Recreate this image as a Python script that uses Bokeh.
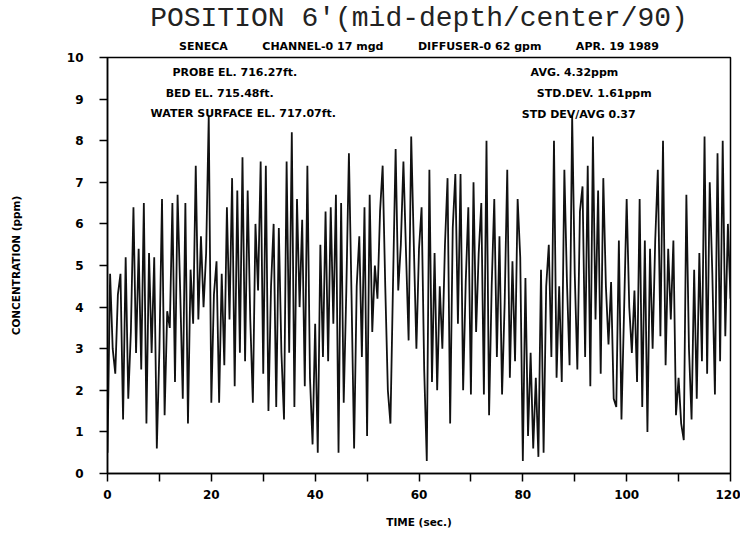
import numpy as np
from bokeh.plotting import figure
from bokeh.models import Label, Title, FixedTicker, ColumnDataSource
from bokeh.embed import file_html
from bokeh.resources import INLINE

conc = [
    0.5, 4.8, 3.0, 2.4, 4.3, 4.8, 1.3, 5.2, 1.8, 3.4,
    6.4, 2.9, 5.4, 2.5, 6.5, 1.2, 5.3, 2.9, 5.2, 0.6,
    3.0, 6.6, 1.4, 3.9, 3.5, 6.5, 2.2, 6.7, 4.4, 1.8,
    6.5, 1.2, 4.9, 3.6, 7.4, 3.7, 5.7, 4.0, 5.3, 8.6,
    1.7, 4.3, 5.1, 1.7, 4.8, 2.6, 6.4, 3.7, 7.1, 2.1,
    6.8, 2.9, 7.6, 2.7, 6.8, 3.7, 1.7, 6.0, 4.4, 7.5,
    2.4, 7.4, 1.5, 4.5, 6.0, 1.6, 5.9, 2.9, 1.3, 7.5,
    2.9, 8.2, 1.6, 6.6, 4.0, 6.1, 2.1, 7.4, 2.3, 0.7,
    3.6, 0.5, 5.5, 2.8, 6.3, 2.7, 6.4, 3.6, 6.7, 0.5,
    6.5, 1.7, 4.4, 7.7, 4.3, 0.6, 4.5, 5.7, 2.8, 6.4,
    0.9, 6.7, 3.4, 5.0, 4.2, 6.3, 7.4, 4.5, 2.0, 1.2,
    4.6, 7.8, 4.4, 5.5, 7.5, 5.3, 3.2, 8.1, 5.5, 3.0,
    5.4, 6.4, 2.5, 0.3, 7.3, 2.2, 5.3, 2.0, 4.5, 3.0,
    5.5, 7.1, 1.2, 5.9, 7.2, 3.6, 7.2, 2.0, 4.6, 6.4,
    1.9, 7.0, 3.4, 5.3, 6.5, 1.9, 8.0, 1.4, 4.5, 6.6,
    2.8, 5.7, 1.9, 4.1, 7.3, 2.3, 5.1, 2.7, 6.6, 5.2,
    0.3, 4.7, 0.9, 2.9, 0.6, 2.3, 0.4, 4.9, 0.5, 4.5,
    5.5, 2.8, 8.0, 2.3, 4.5, 2.2, 7.3, 4.6, 2.6, 8.6,
    4.8, 2.5, 6.3, 6.9, 2.8, 7.4, 2.1, 8.1, 3.7, 6.8,
    2.4, 7.1, 4.5, 3.1, 4.6, 1.8, 1.6, 5.6, 1.3, 3.9,
    6.6, 4.0, 2.9, 4.4, 2.2, 6.6, 1.6, 5.6, 1.0, 5.4,
    3.0, 5.6, 7.3, 3.3, 8.0, 2.6, 5.4, 3.7, 5.6, 1.4,
    2.3, 1.2, 0.8, 6.7, 3.0, 1.3, 4.9, 1.8, 5.3, 2.7,
    8.1, 2.4, 7.0, 4.8, 1.9, 7.7, 2.7, 8.0, 3.3, 6.0,
    4.2,
]
t_start, t_end = 0, 120
time = np.linspace(t_start, t_end, len(conc))

x_ticks = [0, 20, 40, 60, 80, 100, 120]
x_minor = [10, 30, 50, 70, 90, 110]
y_ticks = [0, 1, 2, 3, 4, 5, 6, 7, 8, 9, 10]

NB = "\u00a0"
title_text = "POSITION 6'(mid-depth/center/90)"
subtitle_text = (NB * 9).join(["SENECA", "CHANNEL-0 17 mgd",
                               "DIFFUSER-0 62 gpm", "APR. 19 1989"])
left_notes = [("PROBE EL. 716.27ft.", 12.5, 9.64),
              ("BED EL. 715.48ft.", 11.2, 9.13),
              ("WATER SURFACE EL. 717.07ft.", 8.3, 8.66)]
right_notes = [("AVG. 4.32ppm", 81.5, 9.64),
               ("STD.DEV. 1.61ppm", 82.7, 9.13),
               ("STD DEV/AVG 0.37", 79.8, 8.63)]

p = figure(width=740, height=530, output_backend="svg", toolbar_location=None,
           x_range=(0, 120), y_range=(0, 10), title=None,
           min_border_left=107, min_border_right=10, min_border_bottom=56,
           min_border_top=8)
p.grid.visible = False
p.outline_line_color = "black"
p.outline_line_width = 1.5
p.background_fill_color = "white"

src = ColumnDataSource(dict(t=time, c=conc))
p.line("t", "c", source=src, line_color="#111111", line_width=1.8)

sub = Title(text=subtitle_text, align="center", text_font="DejaVu Sans",
            text_font_size="11px", text_font_style="bold", text_color="black",
            standoff=9, offset=-15)
main = Title(text=title_text, align="center", text_font="Liberation Mono",
             text_font_size="28px", text_font_style="normal", text_color="#222222",
             standoff=0, offset=-15)
p.add_layout(sub, "above")
p.add_layout(main, "above")

for ax in (p.xaxis[0], p.yaxis[0]):
    ax.axis_line_width = 1.5
    ax.major_tick_line_width = 1.5
    ax.minor_tick_line_width = 1.5
    ax.major_label_text_font = "DejaVu Sans"
    ax.major_label_text_font_style = "bold"
    ax.major_label_text_font_size = "12px"
    ax.major_label_text_color = "black"
    ax.axis_label_text_font = "DejaVu Sans"
    ax.axis_label_text_font_style = "bold"
    ax.axis_label_text_font_size = "10.5px"
    ax.axis_label_text_color = "black"

p.xaxis.ticker = FixedTicker(ticks=x_ticks, minor_ticks=x_minor)
p.xaxis.major_tick_in = 0
p.xaxis.major_tick_out = 8
p.xaxis.minor_tick_in = 0
p.xaxis.minor_tick_out = 8
p.xaxis.major_label_standoff = 8
p.xaxis.axis_label = "TIME (sec.)"
p.xaxis.axis_label_standoff = 14

p.yaxis.ticker = FixedTicker(ticks=y_ticks)
p.yaxis.major_tick_in = 0
p.yaxis.major_tick_out = 8
p.yaxis.minor_tick_line_color = None
p.yaxis.major_label_standoff = 16
p.yaxis.axis_label = "CONCENTRATION (ppm)"
p.yaxis.axis_label_standoff = 42

for txt, x, y in left_notes + right_notes:
    p.add_layout(Label(x=x, y=y, text=txt, text_font="DejaVu Sans",
                       text_font_style="bold", text_font_size="11px",
                       text_baseline="middle", text_align="left",
                       text_color="black"))

open("out.html", "w").write(file_html(p, INLINE))
